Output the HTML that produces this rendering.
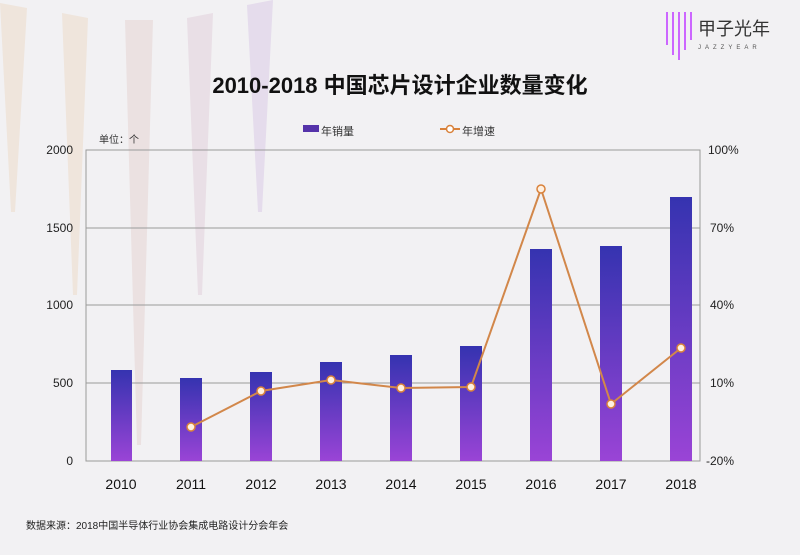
<!DOCTYPE html><html><head><meta charset="utf-8"><style>body{margin:0}svg{display:block}</style></head><body>
<svg width="800" height="555" xmlns="http://www.w3.org/2000/svg" font-family="Liberation Sans, Noto Sans CJK SC, sans-serif">
<defs><linearGradient id="g" x1="0" y1="0" x2="0" y2="1"><stop offset="0" stop-color="#3533b0"/><stop offset="1" stop-color="#9a44d6"/></linearGradient></defs>
<rect width="800" height="555" fill="#f2f1f3"/>
<polygon points="0,3 27,8 15,212 11,212" fill="#efe5dc"/>
<polygon points="62,13 88,18 77,295 73,295" fill="#efe5dc"/>
<polygon points="125,20 153,20 141,445 137,445" fill="#ebe1e1"/>
<polygon points="187,18 213,13 202,295 198,295" fill="#e9dfe6"/>
<polygon points="247,5 273,0 262,212 258,212" fill="#e5dcec"/>
<g stroke="#cc66ff" stroke-width="2"><line x1="667" y1="12" x2="667" y2="45"/><line x1="673" y1="12" x2="673" y2="55"/><line x1="679" y1="12" x2="679" y2="60"/><line x1="685" y1="12" x2="685" y2="50"/><line x1="691" y1="12" x2="691" y2="40"/></g>
<text x="698" y="35" font-size="18" fill="#333">甲子光年</text>
<text x="698" y="49" font-size="6" fill="#555" letter-spacing="4">JAZZYEAR</text>
<text x="400" y="93" font-size="22" font-weight="bold" text-anchor="middle" fill="#111">2010-2018 中国芯片设计企业数量变化</text>
<rect x="303" y="125" width="16" height="7" fill="#5533aa"/><text x="321" y="135" font-size="11" fill="#333">年销量</text>
<line x1="440" y1="129" x2="460" y2="129" stroke="#d9813a" stroke-width="2"/><circle cx="450" cy="129" r="3.5" fill="#fff" stroke="#d9813a" stroke-width="1.5"/><text x="462" y="135" font-size="11" fill="#333">年增速</text>
<text x="99" y="143" font-size="10" fill="#333">单位：个</text>
<g stroke="#9a9a9a" stroke-width="1" fill="none"><rect x="86" y="150" width="614" height="311"/><line x1="86" y1="228" x2="700" y2="228"/><line x1="86" y1="305" x2="700" y2="305"/><line x1="86" y1="383" x2="700" y2="383"/></g>
<g font-size="12" fill="#222" text-anchor="end"><text x="73" y="154">2000</text><text x="73" y="232">1500</text><text x="73" y="309">1000</text><text x="73" y="387">500</text><text x="73" y="465">0</text></g>
<g font-size="12" fill="#222"><text x="708" y="154">100%</text><text x="710" y="232">70%</text><text x="710" y="309">40%</text><text x="710" y="387">10%</text><text x="706" y="465">-20%</text></g>
<g fill="url(#g)"><rect x="111" y="370" width="21" height="91"/><rect x="180" y="378" width="22" height="83"/><rect x="250" y="372" width="22" height="89"/><rect x="320" y="362" width="22" height="99"/><rect x="390" y="355" width="22" height="106"/><rect x="460" y="346" width="22" height="115"/><rect x="530" y="249" width="22" height="212"/><rect x="600" y="246" width="22" height="215"/><rect x="670" y="197" width="22" height="264"/></g>
<polyline points="191,427 261,391 331,380 401,388 471,387 541,189 611,404 681,348" fill="none" stroke="#d2874a" stroke-width="2"/>
<g fill="#fff0e0" stroke="#d9813a" stroke-width="1.5"><circle cx="191" cy="427" r="4"/><circle cx="261" cy="391" r="4"/><circle cx="331" cy="380" r="4"/><circle cx="401" cy="388" r="4"/><circle cx="471" cy="387" r="4"/><circle cx="541" cy="189" r="4"/><circle cx="611" cy="404" r="4"/><circle cx="681" cy="348" r="4"/></g>
<g font-size="14" fill="#111" text-anchor="middle"><text x="121" y="489">2010</text><text x="191" y="489">2011</text><text x="261" y="489">2012</text><text x="331" y="489">2013</text><text x="401" y="489">2014</text><text x="471" y="489">2015</text><text x="541" y="489">2016</text><text x="611" y="489">2017</text><text x="681" y="489">2018</text></g>
<text x="26" y="529" font-size="10" fill="#222">数据来源：2018中国半导体行业协会集成电路设计分会年会</text>
</svg></body></html>
